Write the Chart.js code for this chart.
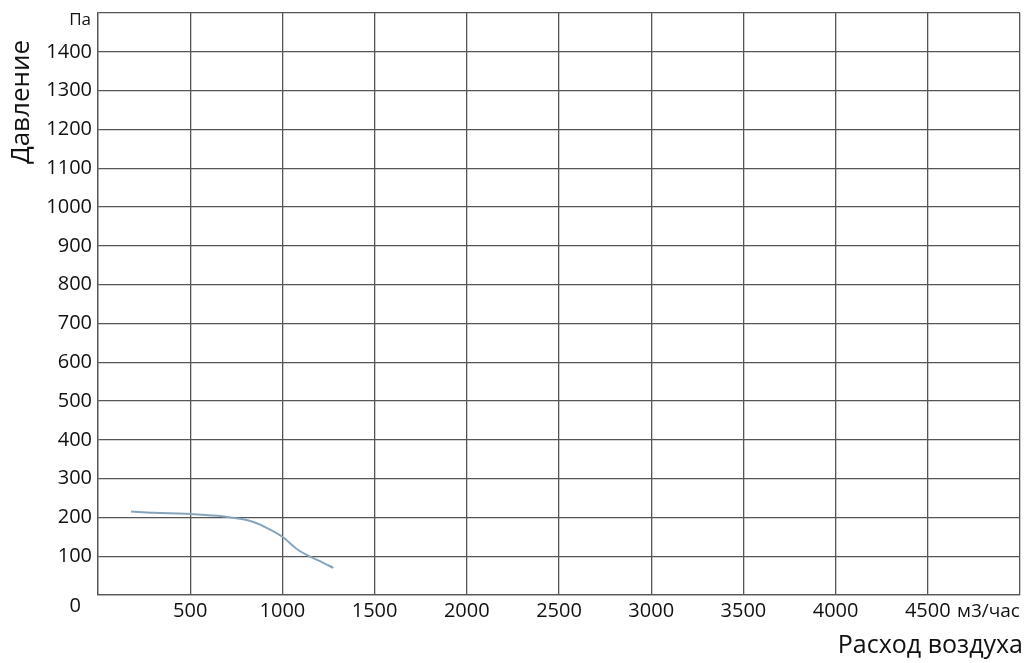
<!DOCTYPE html>
<html><head><meta charset="utf-8">
<script src="https://cdn.jsdelivr.net/npm/chart.js@4/dist/chart.umd.min.js"></script>
<style>html,body{margin:0;padding:0;background:#fff}canvas{display:block}</style>
</head><body>
<canvas id="c" width="1030" height="663"></canvas>
<script>
const flowValues = [179, 300, 500, 650, 732, 800, 861, 920, 1000, 1080, 1150, 1200, 1276];
const pressureValues = [215, 212, 209, 204, 199, 194, 185, 172, 150, 118, 99, 88, 70];
const xTickValues = [500, 1000, 1500, 2000, 2500, 3000, 3500, 4000, 4500];
const yTickValues = [100, 200, 300, 400, 500, 600, 700, 800, 900, 1000, 1100, 1200, 1300, 1400];
const yTitle = 'Давление';
const xTitle = 'Расход воздуха';
const yUnit = 'Па';
const xUnit = 'м3/час';
const zeroLabel = '0';

const FONT = '"Open Sans", "Noto Sans", sans-serif';
const labelsPlugin = {
  id: 'labels',
  afterDraw(chart) {
    const {ctx, scales} = chart;
    ctx.save();
    ctx.fillStyle = '#111';
    ctx.font = '20px ' + FONT;
    ctx.textBaseline = 'middle';
    ctx.textAlign = 'right';
    ctx.fillText(zeroLabel, 81, scales.y.getPixelForValue(0) + 11);
    ctx.font = '17px ' + FONT;
    ctx.fillText(yUnit, 91, 20);
    ctx.font = '19px ' + FONT;
    ctx.textAlign = 'left';
    ctx.fillText(xUnit, 957, 612);
    ctx.font = '25px ' + FONT;
    ctx.textAlign = 'right';
    ctx.fillText(xTitle, 1023, 646);
    ctx.translate(22, 102);
    ctx.rotate(-Math.PI / 2);
    ctx.textAlign = 'center';
    ctx.font = '26px ' + FONT;
    ctx.fillText(yTitle, 0, 0);
    ctx.restore();
  }
};

new Chart(document.getElementById('c'), {
  type: 'line',
  data: {
    datasets: [{
      data: flowValues.map((x, i) => ({x, y: pressureValues[i]})),
      borderColor: '#86a5bd',
      borderWidth: 2,
      pointRadius: 0,
      cubicInterpolationMode: 'monotone',
      fill: false
    }]
  },
  options: {
    responsive: false,
    animation: false,
    layout: {padding: {top: 13, right: 10, left: 0, bottom: 0}},
    plugins: {legend: {display: false}, tooltip: {enabled: false}},
    scales: {
      x: {
        type: 'linear', min: 0, max: 5000,
        afterFit(s) { s.height = 68; s.paddingLeft = 0; s.paddingRight = 0; },
        afterBuildTicks(s) { s.ticks = [0, ...xTickValues, 5000].map(v => ({value: v})); },
        grid: {color: '#555', lineWidth: 1.3, drawTicks: false},
        border: {color: '#555', width: 1.3},
        ticks: {
          padding: 4,
          color: '#111',
          font: {family: FONT, size: 20},
          maxRotation: 0,
          autoSkip: false,
          callback: v => xTickValues.includes(v) ? String(v) : ''
        }
      },
      y: {
        type: 'linear', min: 0, max: 1500,
        afterFit(s) { s.width = 98; s.paddingTop = 0; s.paddingBottom = 0; },
        afterBuildTicks(s) { s.ticks = [0, ...yTickValues, 1500].map(v => ({value: v})); },
        grid: {color: '#555', lineWidth: 1.3, drawTicks: false},
        border: {color: '#555', width: 1.3},
        ticks: {
          padding: 6,
          color: '#111',
          font: {family: FONT, size: 20},
          autoSkip: false,
          callback: v => yTickValues.includes(v) ? String(v) : ''
        }
      }
    }
  },
  plugins: [labelsPlugin]
});
</script>
</body></html>
